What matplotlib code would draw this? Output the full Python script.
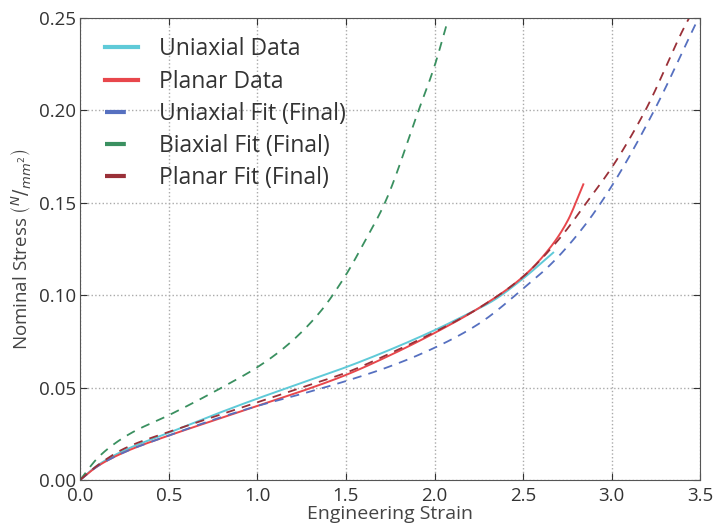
import matplotlib
matplotlib.use("Agg")
import matplotlib.pyplot as plt
import numpy as np

plt.rcParams['font.family'] = ['Open Sans', 'DejaVu Sans']
plt.rcParams['mathtext.fontset'] = 'dejavusans'

# Uniaxial data
uni_x = [0.0, 0.1, 0.25, 0.5, 0.75, 1.0, 1.25, 1.5, 1.75, 2.0, 2.15, 2.33, 2.5, 2.67]
uni_y = [0.0, 0.008, 0.016, 0.0255, 0.035, 0.0440, 0.0525, 0.061, 0.0705, 0.081, 0.088, 0.097, 0.109, 0.123]
# Planar data
pla_x = [0.0, 0.1, 0.25, 0.5, 0.75, 1.0, 1.25, 1.5, 1.75, 2.0, 2.25, 2.5, 2.655, 2.75, 2.84]
pla_y = [0.0, 0.0075, 0.015, 0.024, 0.032, 0.0400, 0.048, 0.0568, 0.0675, 0.0795, 0.093, 0.110, 0.126, 0.140, 0.160]
# Uniaxial fit
ufit_x = [0.0, 0.1, 0.25, 0.5, 0.75, 1.0, 1.25, 1.5, 1.75, 2.0, 2.25, 2.5, 2.67, 2.85, 3.0, 3.24, 3.46, 3.5]
ufit_y = [0.0, 0.0075, 0.015, 0.024, 0.0325, 0.040, 0.0465, 0.0535, 0.0615, 0.0715, 0.0845, 0.1035, 0.118, 0.138, 0.159, 0.200, 0.244, 0.252]
# Biaxial fit
bfit_x = [0.0, 0.1, 0.2, 0.3, 0.5, 0.8, 1.0, 1.17, 1.355, 1.5, 1.6, 1.72, 1.91, 2.0, 2.07]
bfit_y = [0.0, 0.012, 0.020, 0.026, 0.035, 0.050, 0.061, 0.073, 0.091, 0.111, 0.128, 0.150, 0.200, 0.224, 0.247]
# Planar fit
pfit_x = [0.0, 0.1, 0.25, 0.5, 0.75, 1.0, 1.25, 1.5, 1.75, 2.0, 2.25, 2.5, 2.7, 2.88, 3.0, 3.19, 3.42, 3.44]
pfit_y = [0.0, 0.008, 0.017, 0.026, 0.034, 0.042, 0.050, 0.058, 0.0685, 0.080, 0.093, 0.110, 0.130, 0.153, 0.169, 0.200, 0.247, 0.2505]

xticks = [0.0, 0.5, 1.0, 1.5, 2.0, 2.5, 3.0, 3.5]
yticks = [0.00, 0.05, 0.10, 0.15, 0.20, 0.25]

fig = plt.figure(figsize=(7.16, 5.32), dpi=100)
ax = fig.add_axes([0.112, 0.098, 0.866, 0.868])

def smooth(x, y, n=300):
    # monotone cubic (PCHIP-like) interpolation through the read points
    x = np.asarray(x, float); y = np.asarray(y, float)
    xs = np.linspace(x[0], x[-1], n)
    h = np.diff(x); d = np.diff(y) / h
    m = np.zeros_like(y)
    m[0] = d[0]; m[-1] = d[-1]
    for i in range(1, len(x) - 1):
        if d[i-1] * d[i] <= 0:
            m[i] = 0
        else:
            w1 = 2*h[i] + h[i-1]; w2 = h[i] + 2*h[i-1]
            m[i] = (w1 + w2) / (w1/d[i-1] + w2/d[i])
    idx = np.clip(np.searchsorted(x, xs) - 1, 0, len(x) - 2)
    t = (xs - x[idx]) / h[idx]
    h00 = 2*t**3 - 3*t**2 + 1; h10 = t**3 - 2*t**2 + t
    h01 = -2*t**3 + 3*t**2; h11 = t**3 - t**2
    ys = h00*y[idx] + h10*h[idx]*m[idx] + h01*y[idx+1] + h11*h[idx]*m[idx+1]
    return xs, ys

dash = (0, (5, 4))
ax.plot(*smooth(uni_x, uni_y), color='#5fcad8', lw=1.4, label='Uniaxial Data')
ax.plot(*smooth(pla_x, pla_y), color='#e8474c', lw=1.4, label='Planar Data')
ax.plot(*smooth(ufit_x, ufit_y), color='#5670c0', lw=1.3, ls=dash, label='Uniaxial Fit (Final)')
ax.plot(*smooth(bfit_x, bfit_y), color='#3a9060', lw=1.3, ls=dash, label='Biaxial Fit (Final)')
ax.plot(*smooth(pfit_x, pfit_y), color='#9a3038', lw=1.3, ls=dash, label='Planar Fit (Final)')

ax.set_xlim(0, 3.5)
ax.set_ylim(0, 0.25)
ax.set_xticks(xticks)
ax.set_yticks(yticks)
ax.set_xticklabels([f'{v:.1f}' for v in xticks])
ax.set_yticklabels([f'{v:.2f}' for v in yticks])
ax.tick_params(direction='in', top=True, right=True, labelsize=13.5, colors='#333333', length=5)
ax.tick_params(axis='y', pad=3)
ax.tick_params(axis='x', pad=5)
for s in ax.spines.values():
    s.set_color('#555555')
ax.grid(True, color='#aaaaaa', ls=':', lw=1.0)
ax.set_xlabel('Engineering Strain', fontsize=14, color='#444444', labelpad=0)
ax.set_ylabel(r'Nominal Stress $\left(^{N}/_{mm^2}\right)$', fontsize=13.5, color='#444444', labelpad=4)

leg = ax.legend(loc='upper left', frameon=False, fontsize=16.5, handlelength=1.45,
                handletextpad=0.9, labelspacing=0.36, borderaxespad=0, borderpad=0,
                bbox_to_anchor=(0.04, 0.958))
for h in leg.get_lines():
    h.set_linewidth(3)
for t in leg.get_texts():
    t.set_color('#333333')

fig.savefig('out.png', dpi=100)
